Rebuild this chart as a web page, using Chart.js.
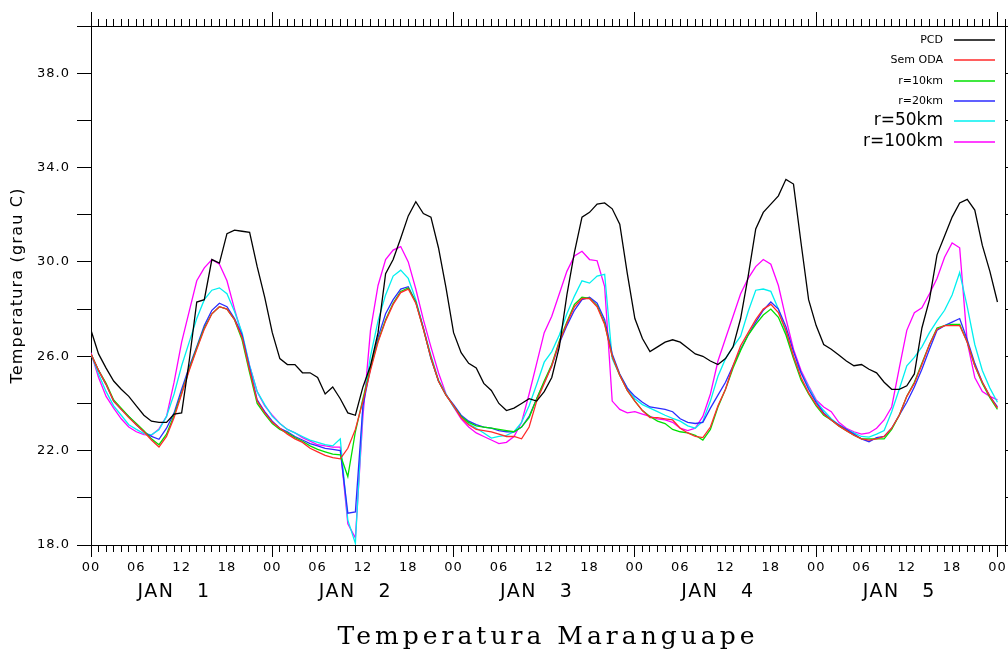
<!DOCTYPE html>
<html>
<head>
<meta charset="utf-8">
<title>Temperatura Maranguape</title>
<script src="https://cdn.jsdelivr.net/npm/chart.js@4.4.0/dist/chart.umd.min.js"></script>
<style>
    html, body { margin: 0; padding: 0; background: #fff; }
    #wrap { width: 1008px; height: 657px; }
</style>
</head>
<body>
<div id="wrap"><canvas id="tempChart" width="1008" height="657"></canvas></div>
<script>
// hourly series, 00 JAN 1 .. 00 JAN 6
const hours = Array.from({ length: 121 }, (_, h) => h);
const hourTicks = Array.from({ length: 122 }, (_, h) => h);
const yTicks = [18, 20, 22, 24, 26, 28, 30, 32, 34, 36, 38, 40];
const yLabelValues = [18, 22, 26, 30, 34, 38];
const dayCenters = [11, 35, 59, 83, 107];
const dayLabels = ['JAN   1', 'JAN   2', 'JAN   3', 'JAN   4', 'JAN   5'];

const pcd = [
    27.1, 26.1, 25.5, 24.95, 24.6, 24.3, 23.9, 23.5, 23.25, 23.2, 23.2, 23.55,
    23.6, 25.8, 28.3, 28.4, 30.1, 29.95, 31.2, 31.35, 31.3, 31.25, 29.8, 28.5,
    27.0, 25.9, 25.65, 25.65, 25.3, 25.3, 25.1, 24.4, 24.7, 24.2, 23.6, 23.5,
    24.7, 25.6, 27.0, 29.5, 30.1, 31.0, 31.95, 32.55, 32.05, 31.9, 30.6, 28.9,
    27.0, 26.15, 25.7, 25.5, 24.85, 24.55, 24.0, 23.7, 23.8, 24.0, 24.2, 24.1,
    24.5, 25.1, 26.4, 28.6, 30.4, 31.9, 32.1, 32.45, 32.5, 32.25, 31.6, 29.5,
    27.6, 26.75, 26.2, 26.4, 26.6, 26.7, 26.6, 26.35, 26.1, 26.0, 25.8, 25.65,
    25.9, 26.4, 27.6, 29.4, 31.4, 32.1, 32.45, 32.8, 33.5, 33.3, 30.8, 28.4,
    27.3, 26.5, 26.3, 26.05, 25.8, 25.6, 25.65, 25.45, 25.3, 24.9, 24.6, 24.6,
    24.75, 25.25, 27.2, 28.4, 30.3, 31.1, 31.9, 32.5, 32.65, 32.2, 30.7, 29.6,
    28.3
];
const semOda = [
    26.1, 25.4, 24.8, 24.1, 23.75, 23.4, 23.1, 22.8, 22.45, 22.15, 22.6, 23.4,
    24.4, 25.4, 26.3, 27.15, 27.8, 28.1, 28.0, 27.55, 26.8, 25.4, 24.1, 23.6,
    23.2, 22.95, 22.7, 22.5, 22.35, 22.1, 21.95, 21.8, 21.7, 21.65, 22.1, 22.9,
    24.1, 25.4, 26.6, 27.5, 28.2, 28.7, 28.85, 28.25, 27.15, 25.95, 24.95, 24.35,
    23.9, 23.4, 23.1, 22.9, 22.85, 22.8, 22.7, 22.6, 22.6, 22.5, 23.0, 24.1,
    24.85, 25.6, 26.6, 27.4, 28.1, 28.45, 28.45, 28.1, 27.35, 26.0, 25.2, 24.55,
    24.1, 23.7, 23.4, 23.4, 23.35, 23.3, 22.95, 22.75, 22.6, 22.55, 23.0, 23.9,
    24.6, 25.6, 26.45, 27.0, 27.55, 28.0, 28.2, 27.85, 27.1, 26.0, 25.1, 24.45,
    23.95, 23.55, 23.3, 23.05, 22.85, 22.65, 22.5, 22.45, 22.5, 22.6, 22.95, 23.5,
    24.3, 24.85, 25.65, 26.5, 27.15, 27.3, 27.3, 27.3, 26.6, 25.6, 24.9, 24.3,
    23.8
];
const r10km = [
    26.1, 25.4, 24.85, 24.15, 23.8, 23.45, 23.15, 22.85, 22.5, 22.25, 22.7, 23.5,
    24.45, 25.45, 26.35, 27.2, 27.8, 28.1, 28.0, 27.55, 26.7, 25.3, 24.0, 23.55,
    23.15, 22.9, 22.75, 22.55, 22.4, 22.2, 22.05, 21.95, 21.85, 21.82, 20.9, 22.8,
    24.2, 25.5, 26.65, 27.55, 28.25, 28.75, 28.9, 28.3, 27.15, 25.95, 24.95, 24.35,
    23.9, 23.45, 23.2, 23.05, 23.0, 22.95, 22.9, 22.85, 22.8, 23.0, 23.4, 24.2,
    24.95, 25.65, 26.65, 27.45, 28.2, 28.5, 28.45, 28.15, 27.4, 26.0, 25.2, 24.55,
    24.1, 23.7, 23.45, 23.25, 23.15, 22.9, 22.8, 22.75, 22.65, 22.45, 22.9, 23.85,
    24.6, 25.5, 26.25, 26.9, 27.35, 27.75, 28.0, 27.65, 26.9, 25.9, 25.0, 24.4,
    23.9, 23.5, 23.3, 23.05, 22.85, 22.65, 22.5, 22.5, 22.5, 22.5, 22.9, 23.5,
    24.3, 24.9, 25.7, 26.5, 27.2, 27.3, 27.35, 27.35, 26.6, 25.6, 24.85, 24.25,
    23.75
];
const r20km = [
    26.1, 25.4, 24.8, 24.1, 23.75, 23.45, 23.1, 22.8, 22.6, 22.48, 22.95, 23.6,
    24.6, 25.55, 26.4, 27.3, 27.95, 28.25, 28.1, 27.6, 26.9, 25.5, 24.15, 23.65,
    23.25, 22.95, 22.8, 22.6, 22.45, 22.3, 22.2, 22.1, 22.05, 22.0, 19.35, 19.4,
    23.9, 25.5, 26.8, 27.8, 28.4, 28.85, 28.95, 28.3, 27.2, 25.9, 24.95, 24.35,
    23.95, 23.5, 23.25, 23.1, 23.0, 22.95, 22.85, 22.8, 22.8, 23.0, 23.45, 24.2,
    24.9, 25.6, 26.55, 27.3, 27.95, 28.4, 28.5, 28.25, 27.55, 26.1, 25.25, 24.65,
    24.3, 24.05, 23.85, 23.8, 23.75, 23.65, 23.35, 23.2, 23.15, 23.2, 23.8, 24.35,
    24.9, 25.6, 26.3, 26.9, 27.45, 27.95, 28.3, 28.0, 27.25, 26.2, 25.3, 24.6,
    24.05, 23.6, 23.3, 23.1, 22.9, 22.7, 22.5, 22.38, 22.55, 22.6, 22.95, 23.5,
    24.05, 24.7, 25.45, 26.3, 27.1, 27.3, 27.45, 27.6, 26.7, 25.7, 24.9, 24.3,
    23.85
];
const r50km = [
    26.1, 25.25, 24.5, 23.9, 23.5, 23.1, 22.9, 22.72, 22.67, 22.88, 23.45, 24.4,
    25.6, 26.6, 27.6, 28.4, 28.8, 28.9, 28.65, 27.9, 27.0, 25.6, 24.5, 23.95,
    23.45, 23.15, 22.9, 22.75, 22.6, 22.45, 22.35, 22.25, 22.2, 22.5, 19.05, 18.07,
    23.9, 26.0, 27.5, 28.6, 29.4, 29.65, 29.3, 28.4, 27.2, 26.05, 25.0, 24.4,
    23.85, 23.45, 23.15, 22.95, 22.75, 22.53, 22.6, 22.65, 22.8, 23.2, 23.9, 24.8,
    25.75, 26.2, 26.9, 27.8, 28.55, 29.2, 29.1, 29.4, 29.47, 25.9, 25.2, 24.65,
    24.2, 23.95, 23.8, 23.65, 23.5, 23.37, 23.25, 23.05, 22.95, 23.25, 24.1, 25.15,
    25.9, 26.4, 26.85, 27.9, 28.8, 28.85, 28.75, 28.0, 27.0, 25.95, 25.3, 24.7,
    24.1, 23.7, 23.35, 23.1, 22.9, 22.75, 22.6, 22.57, 22.7, 22.85, 23.65, 24.6,
    25.6, 25.95, 26.4, 27.0, 27.5, 27.95, 28.6, 29.55, 28.1, 26.5, 25.4, 24.65,
    24.05
];
const r100km = [
    26.15, 25.1, 24.3, 23.8, 23.35, 23.0, 22.8, 22.68, 22.65, 22.92, 23.45, 24.9,
    26.6, 27.9, 29.2, 29.75, 30.1, 29.9, 29.2, 28.0, 26.9, 25.6, 24.5, 23.9,
    23.5, 23.15, 22.9, 22.75, 22.55, 22.4, 22.25, 22.2, 22.15, 22.15, 18.9, 18.3,
    23.45, 27.1, 29.0, 30.1, 30.5, 30.65, 30.0, 28.85, 27.55, 26.4, 25.3, 24.4,
    23.85, 23.35, 23.0, 22.75, 22.6, 22.45, 22.3, 22.35, 22.6, 23.2, 24.4, 25.7,
    27.0, 27.7, 28.65, 29.6, 30.25, 30.45, 30.1, 30.05, 28.95, 24.1, 23.75, 23.6,
    23.65, 23.55, 23.45, 23.35, 23.3, 23.2, 22.95, 22.85, 22.95, 23.45, 24.4, 25.8,
    26.75, 27.7, 28.65, 29.3, 29.8, 30.1, 29.9, 29.0, 27.6, 26.3, 25.4, 24.75,
    24.15, 23.85, 23.65, 23.2, 22.95, 22.8, 22.7, 22.75, 22.95, 23.3, 23.85, 25.5,
    27.1, 27.85, 28.05, 28.65, 29.3, 30.2, 30.8, 30.6, 26.6, 25.1, 24.5, 24.3,
    24.15
];

const seriesNames = ['PCD', 'Sem ODA', 'r=10km', 'r=20km', 'r=50km', 'r=100km'];
const seriesValues = [pcd, semOda, r10km, r20km, r50km, r100km];
const seriesColors = ['#000000', '#ff2a2a', '#00e000', '#2b2bff', '#00f0f0', '#ff00ff'];

Chart.defaults.font.family = '"DejaVu Sans", sans-serif';
Chart.defaults.color = '#000';

function toPoints(values) {
    return values.map((v, i) => ({ x: hours[i], y: v }));
}

function setTicks(list) {
    return (axis) => { axis.ticks = list.map(v => ({ value: v })); };
}

// legend in the upper right corner of the plot, text left of the sample line
const cornerLegend = {
    id: 'cornerLegend',
    afterDatasetsDraw(chart, args, opts) {
        const { ctx, chartArea } = chart;
        ctx.save();
        ctx.textAlign = 'right';
        ctx.textBaseline = 'middle';
        chart.data.datasets.forEach((ds, i) => {
            const y = chartArea.top + opts.rows[i];
            ctx.font = opts.sizes[i] + 'px "DejaVu Sans"';
            ctx.fillStyle = '#000';
            ctx.fillText(ds.label, chartArea.right - 62, y);
            ctx.strokeStyle = ds.borderColor;
            ctx.lineWidth = 1.5;
            ctx.beginPath();
            ctx.moveTo(chartArea.right - 51, y);
            ctx.lineTo(chartArea.right - 10, y);
            ctx.stroke();
        });
        ctx.restore();
    }
};

// wider letter spacing for the plotter style lettering
const spacedText = {
    id: 'spacedText',
    beforeDraw(chart) {
        const ctx = chart.ctx;
        const wrap = (obj, method, px) => {
            if (!obj || obj['_sp_' + method]) return;
            const orig = obj[method].bind(obj);
            obj[method] = function (...a) {
                ctx.save();
                ctx.letterSpacing = px + 'px';
                orig(...a);
                ctx.restore();
            };
            obj['_sp_' + method] = true;
        };
        wrap(chart.titleBlock, 'draw', 4);
        wrap(chart.scales.y, 'drawTitle', 1.2);
        wrap(chart.scales.y, 'drawLabels', 1);
        wrap(chart.scales.x, 'drawLabels', 1);
        wrap(chart.scales.days, 'drawLabels', 1.5);
    }
};

const minorBottom = (c) => (c.tick && c.tick.value % 24 === 0 ? [] : [6, 100]);
const minorTop = (c) => (c.tick && c.tick.value % 24 === 0 ? [] : [0, 7, 8, 100]);

new Chart(document.getElementById('tempChart'), {
    type: 'line',
    data: {
        datasets: seriesNames.map((name, i) => ({
            label: name,
            data: toPoints(seriesValues[i]),
            borderColor: seriesColors[i],
            borderWidth: 1.3,
            pointRadius: 0,
            tension: 0,
            fill: false
        }))
    },
    options: {
        responsive: false,
        animation: false,
        layout: { padding: 0 },
        plugins: {
            legend: { display: false },
            tooltip: { enabled: false },
            title: {
                display: true,
                position: 'bottom',
                fullSize: false,
                text: 'Temperatura Maranguape',
                color: '#000',
                font: { family: '"DejaVu Serif", serif', size: 25, weight: 'normal', lineHeight: 1.2 },
                padding: { top: 16, bottom: 5 }
            },
            cornerLegend: {
                rows: [14, 34, 55, 75, 95, 116],
                sizes: [11, 11, 11, 11, 17, 17]
            }
        },
        scales: {
            x: {
                type: 'linear',
                position: 'bottom',
                min: 0,
                max: 121,
                afterBuildTicks: setTicks(hourTicks),
                afterFit: (axis) => { axis.height = 36; },
                ticks: {
                    autoSkip: false,
                    maxRotation: 0,
                    padding: 3,
                    font: { size: 13 },
                    color: '#000',
                    callback: (v) => (v % 6 === 0 ? String(v % 24).padStart(2, '0') : '')
                },
                grid: {
                    drawOnChartArea: false,
                    tickLength: 12,
                    tickColor: '#000',
                    tickWidth: 1,
                    tickBorderDash: minorBottom
                },
                border: { color: '#000', width: 1 }
            },
            days: {
                type: 'linear',
                position: 'bottom',
                min: 0,
                max: 121,
                afterBuildTicks: setTicks(dayCenters),
                afterFit: (axis) => { axis.height = 25; },
                ticks: {
                    autoSkip: false,
                    maxRotation: 0,
                    padding: 0,
                    font: { size: 19 },
                    color: '#000',
                    callback: (v) => dayLabels[dayCenters.indexOf(v)]
                },
                grid: { display: false, drawTicks: false },
                border: { display: false }
            },
            xTop: {
                type: 'linear',
                position: 'top',
                min: 0,
                max: 121,
                afterBuildTicks: setTicks(hourTicks),
                afterFit: (axis) => { axis.height = 26; },
                ticks: { display: false },
                grid: {
                    drawOnChartArea: false,
                    tickLength: 14,
                    tickColor: '#000',
                    tickWidth: 1,
                    tickBorderDash: minorTop
                },
                border: { color: '#000', width: 1 }
            },
            y: {
                position: 'left',
                min: 18,
                max: 40,
                afterBuildTicks: setTicks(yTicks),
                afterFit: (axis) => { axis.width = 91; },
                ticks: {
                    padding: 7,
                    font: { size: 13 },
                    color: '#000',
                    callback: (v) => (yLabelValues.includes(v) ? v.toFixed(1) : '')
                },
                grid: { drawOnChartArea: false, tickLength: 14, tickColor: '#000', tickWidth: 1 },
                border: { color: '#000', width: 1 },
                title: {
                    display: true,
                    text: 'Temperatura (grau C)',
                    color: '#000',
                    font: { size: 16, lineHeight: 1.2 },
                    padding: { top: 8, bottom: 0 }
                }
            },
            yRight: {
                position: 'right',
                min: 18,
                max: 40,
                afterBuildTicks: setTicks(yTicks),
                afterFit: (axis) => { axis.width = 2; },
                ticks: { display: false },
                grid: { drawOnChartArea: false, tickLength: 8, tickColor: '#000', tickWidth: 1 },
                border: { color: '#000', width: 1 }
            }
        }
    },
    plugins: [cornerLegend, spacedText]
});
</script>
</body>
</html>
